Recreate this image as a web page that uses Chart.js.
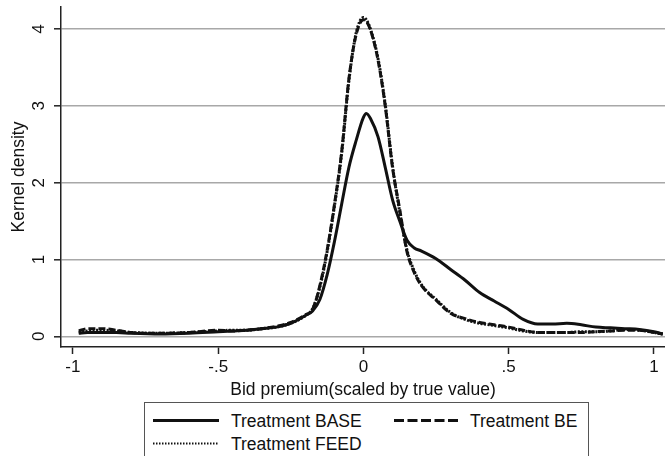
<!DOCTYPE html>
<html>
<head>
<meta charset="utf-8">
<script src="https://cdn.jsdelivr.net/npm/chart.js@4/dist/chart.umd.min.js"></script>
<style>
  html, body { margin: 0; padding: 0; background: #fff; }
  #wrap { position: relative; width: 665px; height: 456px; overflow: hidden; font-family: "Liberation Sans", Arial, sans-serif; }
  #c { position: absolute; left: 0; top: 0; }
  #legend { position: absolute; left: 144px; top: 402px; width: 445px; height: 80px; border: 1px solid #555; box-sizing: border-box; background: #fff; }
  .item { position: absolute; font-size: 17.5px; color: #111; line-height: 20px; white-space: nowrap; }
  .item svg { position: absolute; }
</style>
</head>
<body>
<div id="wrap">
  <canvas id="c" width="665" height="456"></canvas>
  <div id="legend"></div>
</div>
<script>
// ---- data ----
const bidPremium = [-0.98,-0.95,-0.9,-0.85,-0.8,-0.7,-0.6,-0.5,-0.45,-0.4,
  -0.35,-0.3,-0.25,-0.2,-0.175,-0.15,-0.125,-0.1,-0.075,-0.05,
  -0.025,0,0.01,0.025,0.05,0.075,0.1,0.125,0.15,0.175,
  0.2,0.25,0.3,0.35,0.4,0.45,0.5,0.55,0.6,0.65,
  0.7,0.75,0.8,0.85,0.9,0.95,1.0,1.03];

const densityBASE = [0.04,0.05,0.05,0.05,0.04,0.03,0.04,0.06,0.07,0.08,
  0.1,0.12,0.17,0.27,0.33,0.48,0.8,1.23,1.72,2.2,
  2.55,2.85,2.9,2.83,2.6,2.2,1.78,1.5,1.25,1.15,
  1.11,1.01,0.87,0.73,0.57,0.46,0.35,0.22,0.16,0.16,
  0.17,0.15,0.12,0.11,0.1,0.09,0.06,0.03];

const densityBE = [0.07,0.1,0.1,0.08,0.05,0.04,0.05,0.08,0.07,0.08,
  0.1,0.13,0.18,0.28,0.35,0.66,1.12,1.71,2.4,3.35,
  3.93,4.12,4.1,3.98,3.6,3.0,2.2,1.65,1.1,0.83,
  0.66,0.47,0.3,0.23,0.18,0.15,0.12,0.08,0.05,0.05,
  0.05,0.05,0.06,0.07,0.08,0.08,0.05,0.03];

const densityFEED = [0.05,0.07,0.08,0.07,0.05,0.04,0.05,0.07,0.08,0.08,
  0.1,0.12,0.17,0.27,0.36,0.64,1.1,1.69,2.38,3.33,
  3.95,4.15,4.12,3.99,3.62,3.02,2.22,1.62,1.12,0.85,
  0.67,0.48,0.31,0.22,0.17,0.14,0.11,0.07,0.05,0.05,
  0.05,0.06,0.06,0.07,0.09,0.08,0.05,0.03];

const seriesNames = ["Treatment BASE", "Treatment BE", "Treatment FEED"];
const xTickValues = [-1, -0.5, 0, 0.5, 1];
const xTickLabels = ["-1", "-.5", "0", ".5", "1"];
const yTickValues = [0, 1, 2, 3, 4];
const yTickLabels = ["0", "1", "2", "3", "4"];

// ---- styles ----
const FONT = "'Liberation Sans', Arial, sans-serif";
const dashes = [[], [7, 3], [2, 1.5]];
const legendDashes = [[], [10, 3.5], [1.5, 1.5]];
const toPts = ys => bidPremium.map((x, i) => ({ x: x, y: ys[i] }));

const datasets = [densityBASE, densityBE, densityFEED].map((ys, i) => ({
  label: seriesNames[i],
  data: toPts(ys),
  borderColor: '#111',
  borderWidth: 3,
  borderDash: dashes[i],
  pointRadius: 0,
  fill: false,
  cubicInterpolationMode: 'monotone'
}));

new Chart(document.getElementById('c'), {
  type: 'line',
  data: { datasets },
  options: {
    responsive: false,
    animation: false,
    layout: { padding: { top: 7, right: 0, bottom: 54, left: 0 } },
    plugins: { legend: { display: false }, tooltip: { enabled: false } },
    scales: {
      x: {
        type: 'linear',
        min: -1.041, max: 1.038,
        afterBuildTicks: s => { s.ticks = xTickValues.map(v => ({ value: v })); },
        afterFit: s => { s.height = 55; s.paddingLeft = 0; s.paddingRight = 0; },
        ticks: {
          autoSkip: false, maxRotation: 0, minRotation: 0, padding: 3,
          color: '#111', font: { family: FONT, size: 17 },
          callback: (v) => xTickLabels[xTickValues.indexOf(v)]
        },
        grid: { display: true, drawOnChartArea: false, tickLength: 7, tickColor: '#222', tickWidth: 1.5 },
        border: { display: true, color: '#222', width: 1.5 },
        title: {
          display: true, text: 'Bid premium(scaled by true value)',
          color: '#111', font: { family: FONT, size: 17.5, lineHeight: 1.2 },
          padding: { top: 0, bottom: 1.5 }
        }
      },
      y: {
        type: 'linear',
        min: -0.139, max: 4.287,
        afterBuildTicks: s => { s.ticks = yTickValues.map(v => ({ value: v })); },
        afterFit: s => { s.width = 61; s.paddingTop = 0; s.paddingBottom = 0; },
        ticks: {
          autoSkip: false, minRotation: 90, maxRotation: 90, padding: 10, crossAlign: 'center',
          color: '#111', font: { family: FONT, size: 17 },
          callback: (v) => yTickLabels[yTickValues.indexOf(v)]
        },
        grid: { display: true, drawOnChartArea: true, color: '#a8a8a8', lineWidth: 1.6, tickLength: 7, tickColor: '#222', tickWidth: 1.5 },
        border: { display: true, color: '#222', width: 1.5 },
        title: {
          display: true, text: 'Kernel density',
          color: '#111', font: { family: FONT, size: 17.5, lineHeight: 1.2 },
          padding: { top: 9, bottom: 0 }
        }
      }
    }
  }
});

// ---- legend (Stata-style box, two columns) ----
const legend = document.getElementById('legend');
const legendPos = [ [8, 8], [249, 8], [8, 31] ];
seriesNames.forEach((name, i) => {
  const d = document.createElement('div');
  d.className = 'item';
  d.style.left = legendPos[i][0] + 'px';
  d.style.top = legendPos[i][1] + 'px';
  const dash = legendDashes[i].length ? `stroke-dasharray="${legendDashes[i].join(' ')}"` : '';
  const w = i === 2 ? 1.8 : 3;
  d.innerHTML = `<svg width="67" height="20" style="left:0;top:0"><line x1="0" y1="9.5" x2="66" y2="9.5" stroke="#111" stroke-width="${w}" ${dash}/></svg><span style="position:absolute;left:${i===1?76:78}px;top:0">${name}</span>`;
  legend.appendChild(d);
});
</script>
</body>
</html>
